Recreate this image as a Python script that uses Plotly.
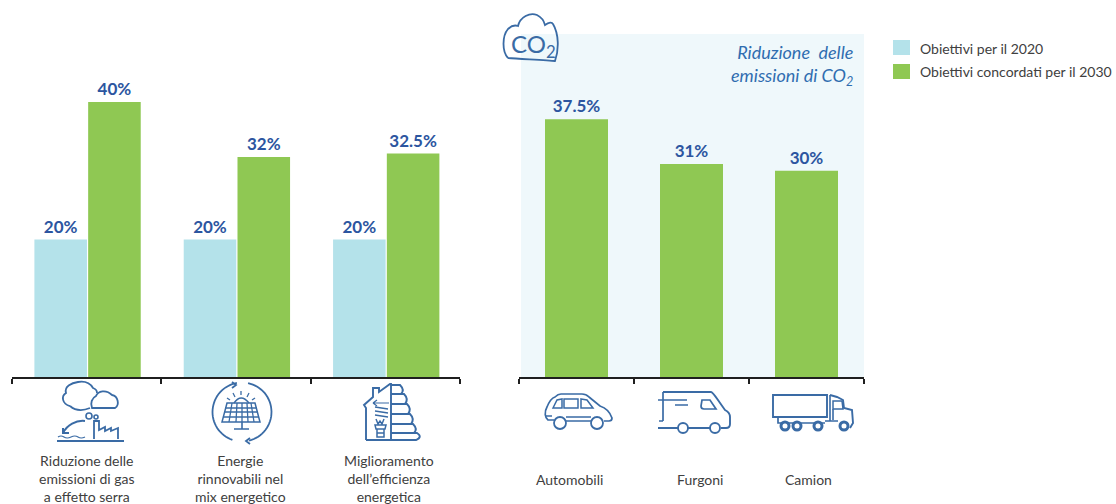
import math
import re
import plotly.graph_objects as go

W, H = 1116, 504

# ---- data ----
goal_categories = ["Riduzione delle<br>emissioni di gas<br>a effetto serra",
                   "Energie<br>rinnovabili nel<br>mix energetico",
                   "Miglioramento<br>dell’efficienza<br>energetica"]
goals_2020 = [20, 20, 20]
goals_2030 = [40, 32, 32.5]
vehicle_categories = ["Automobili", "Furgoni", "Camion"]
vehicles_2030 = [37.5, 31, 30]
series_names = ["Obiettivi per il 2020", "Obiettivi concordati per il 2030"]
label_2020 = ["20%", "20%", "20%"]
label_2030 = ["40%", "32%", "32.5%"]
label_vehicles = ["37.5%", "31%", "30%"]

# ---- style ----
FONT = "Lato"
BLUE_LIGHT = "#B4E2EA"
GREEN = "#8FC853"
PANEL = "#EFF8FB"
VALUE = "#2C55A0"
ICON = "#3A6BA5"
TEXT = "#404040"

PX_PER_UNIT = 6.875
BASE_Y = 377


def px(x):
    return x / W


def py(y):
    return 1 - y / H


def path(d):
    """Convert an SVG-like path given in page pixels into paper coordinates."""
    idx = [0]

    def rep(m):
        v = float(m.group(0))
        r = px(v) if idx[0] % 2 == 0 else py(v)
        idx[0] += 1
        return f"{r:.5f}"
    return re.sub(r"-?\d+\.?\d*", rep, d)


def arc(cx, cy, r, a0, a1, n=32):
    pts = []
    for i in range(n + 1):
        a = math.radians(a0 + (a1 - a0) * i / n)
        pts.append((cx + r * math.cos(a), cy - r * math.sin(a)))
    return "M " + " L ".join(f"{x:.1f} {y:.1f}" for x, y in pts)


shapes = []


def stroke(d, w=1.8, color=ICON):
    shapes.append(dict(type="path", path=path(d), xref="paper", yref="paper",
                       line=dict(color=color, width=w)))


def circle(cx, cy, r, w=1.8, color=ICON, fill="white"):
    shapes.append(dict(type="circle", xref="paper", yref="paper",
                       x0=px(cx - r), x1=px(cx + r), y0=py(cy + r), y1=py(cy - r),
                       line=dict(color=color, width=w), fillcolor=fill))


# panel behind the vehicle bars
shapes.append(dict(type="rect", xref="paper", yref="paper", layer="below",
                   x0=px(521), x1=px(864), y0=py(377), y1=py(34),
                   fillcolor=PANEL, line=dict(width=0)))

# legend swatches
for y0, c in ((40, BLUE_LIGHT), (64, GREEN)):
    shapes.append(dict(type="rect", xref="paper", yref="paper",
                       x0=px(893), x1=px(910), y0=py(y0 + 15), y1=py(y0),
                       fillcolor=c, line=dict(width=0)))

# CO2 cloud
stroke("M 508 58 C 502 52 502 36 508 29 C 511 26 515 25 518 26 C 520 17 530 12 537 15 "
       "C 541 17 544 21 545 25 C 549 22 552 22 553 24 C 559 34 559 50 555 61 "
       "C 548 60 520 59 508 58", 1.8)

# emissions icon
stroke("M 70 406 C 62 404 61 396 66 393 C 64 386 72 383 78 382 C 84 381 90 383 93 388 "
       "C 96 389 97 391 97 393")
stroke("M 70 406 Q 78 413 90 408")
stroke("M 92 408 C 90 403 92 398 96 396 C 98 391 106 389 112 395 C 118 396 120 405 115 408 Z")
circle(89, 416, 3, 1.6)
circle(96, 417, 2, 1.6)
stroke("M 85 421 C 76 420 67 425 63 433", 2)
stroke("M 63 428 L 63 433 L 69 433", 2)
stroke("M 94 439 L 94 421 L 99 421 L 99 430 L 105 427 L 105 431 L 111 428 L 111 431 L 118 428 L 118 439")
stroke("M 57 441 L 124 441", 2)
stroke("M 58 437 Q 61 435 64 437 Q 67 439 71 437 Q 75 435 78 437 Q 81 439 85 437", 1.2)

# renewable energy icon
stroke(arc(242, 412, 29.5, 100, 251))
stroke(arc(242, 412, 29.5, 78, -76))
stroke("M 232 382 L 236 385 L 232 388")
stroke("M 250 438 L 246 441 L 250 444")
stroke("M 227 403 L 255 403 L 260 422 L 222 422 Z", 1.5)
for xa, xb in ((232, 229), (237, 236), (242, 242), (247, 248), (251, 254)):
    stroke(f"M {xa} 403 L {xb} 422", 1.3)
for y, xa, xb in ((408, 225, 257), (412, 224, 258), (417, 223, 259)):
    stroke(f"M {xa} {y} L {xb} {y}", 1.3)
stroke("M 242 422 L 242 429 M 234 429 L 249 429", 1.6)
stroke("M 234 403 Q 241 393 249 403", 1.4)
for x0, y0, x1, y1 in ((241, 391, 241, 395), (233, 393, 235, 397), (249, 393, 247, 397),
                       (227, 398, 230, 400), (255, 398, 252, 400)):
    stroke(f"M {x0} {y0} L {x1} {y1}", 1.3)

# energy-efficiency icon
stroke("M 366 440 L 366 408 L 364 405 L 373 397 L 373 388 L 379 388 L 379 392 L 390 384 L 391 384 L 391 440", 1.9)
stroke("M 366 440 L 416 440 Q 423 437 417 433 L 391 433", 1.9)
stroke("M 391 385 L 400 385 Q 405 390 401 394 L 391 394 "
       "M 401 394 L 404 394 Q 409 399 405 404 L 391 404 "
       "M 405 404 L 407 404 Q 412 409 408 414 L 391 414 "
       "M 408 414 L 410 414 Q 415 419 411 424 L 391 424 "
       "M 411 424 L 413 424 Q 418 429 414 433", 1.9)
stroke("M 373 403 L 389 403 M 373 403 L 377 400 M 373 403 L 377 406", 1.2)
stroke("M 375 407 L 388 409 M 375 411 L 388 413 M 375 415 L 388 417", 1.3)
stroke("M 376 419 L 378 424 L 380 421 L 382 424 L 384 419 M 375 425 L 386 425 L 385 429 L 376 429 Z", 1.5)
stroke("M 377 429 L 377 437 L 384 437 L 384 429 M 377 433 L 384 433", 1.5)

# car icon
stroke("M 554 420 L 548 420 C 545 418 544 412 547 407 C 549 402 552 398 555 397 "
       "C 557 395 559 394 561 394 L 582 394 C 585 394 587 395 589 397 L 600 406 "
       "C 606 408 610 412 612 418 C 612 420 611 421 609 421 L 604 421", 1.7)
stroke("M 566 417 L 591 417 M 566 421 L 591 421 M 546 416 L 552 416", 1.4)
circle(560, 423, 6, 1.8)
circle(597, 423, 6, 1.8)
stroke("M 553 408 L 557 400 L 562 399 L 562 408 Z M 564 399 L 578 399 L 578 408 L 564 408 Z "
       "M 581 399 L 587 400 L 593 408 L 581 408 Z", 1.5)

# van icon
stroke("M 663 392 L 711 392 C 713 392 715 396 725 410 C 729 412 730 414 730 417 L 730 424 "
       "C 730 427 728 428 726 428 L 721 428", 1.9)
stroke("M 658 400 L 687 400 M 675 405 L 688 405 M 663 392 L 663 421 M 659 421 L 663 421", 1.7)
stroke("M 658 428 L 678 428 M 688 428 L 710 428", 1.9)
stroke("M 702 400 L 710 400 L 716 409 L 704 409 C 702 409 701 408 701 406 Z", 1.7)
circle(683, 428, 5, 1.9)
circle(715, 428, 5, 1.9)

# truck icon
stroke("M 773 395 L 827 395 L 827 417 L 773 417 Z", 1.9)
stroke("M 830 395 L 837 397 L 843 400 L 844 408 L 852 410 L 853 423 L 850 428", 1.9)
stroke("M 830 395 L 830 421 M 825 421 L 838 421 M 833 409 L 833 420", 1.6)
stroke("M 833 401 L 842 401 L 843 409 L 833 409 Z", 1.5)
stroke("M 778 417 L 778 423 L 825 423", 1.7)
for cx in (785, 797, 818, 844):
    circle(cx, 426, 4, 3)

fig = go.Figure()
W1 = 0.352
W2 = 63 / 115
fig.add_bar(x=goal_categories, y=goals_2020, name=series_names[0], marker_color=BLUE_LIGHT,
            width=W1, offset=-0.35, text=label_2020, textposition="outside",
            cliponaxis=False, xaxis="x", yaxis="y", showlegend=False)
fig.add_bar(x=goal_categories, y=goals_2030, name=series_names[1], marker_color=GREEN,
            width=W1, offset=0.01, text=label_2030, textposition="outside",
            cliponaxis=False, xaxis="x", yaxis="y", showlegend=False)
fig.add_bar(x=vehicle_categories, y=vehicles_2030, name=series_names[1], marker_color=GREEN,
            width=W2, offset=-W2 / 2, text=label_vehicles, textposition="outside",
            cliponaxis=False, xaxis="x2", yaxis="y2", showlegend=False)
fig.update_traces(textfont=dict(family=FONT, size=17, color=VALUE, weight="bold"),
                  marker_line_width=0)

axis_common = dict(type="category", showgrid=False, zeroline=False, showline=True,
                   linecolor="#1F1F1F", linewidth=1.5, ticks="outside", ticklen=5,
                   tickcolor="#1F1F1F", tickwidth=1.5, tickson="boundaries",
                   showticklabels=False)
ytop = BASE_Y / PX_PER_UNIT
y_dom = [1 - BASE_Y / H, 1]
fig.update_layout(
    width=W, height=H, autosize=False,
    margin=dict(l=0, r=0, t=0, b=0, pad=0),
    paper_bgcolor="white", plot_bgcolor="rgba(0,0,0,0)",
    showlegend=False,
    font=dict(family=FONT, color=TEXT),
    xaxis={**axis_common, "domain": [px(12), px(460)], "anchor": "y"},
    xaxis2={**axis_common, "domain": [px(519), px(864)], "anchor": "y2"},
    yaxis=dict(domain=y_dom, range=[0, ytop], visible=False),
    yaxis2=dict(domain=y_dom, range=[0, ytop], visible=False),
    shapes=shapes,
)

ann = []
for cat, dx in zip(goal_categories, (0, 4, 4)):
    ann.append(dict(x=cat, xref="x", y=py(450), yref="paper", text=cat, showarrow=False,
                    xanchor="center", yanchor="top", xshift=dx, align="center",
                    font=dict(family=FONT, size=14, color=TEXT)))
for cat, dx in zip(vehicle_categories, (-7, 8, 2)):
    ann.append(dict(x=cat, xref="x2", y=py(469), yref="paper", text=cat, showarrow=False,
                    xanchor="center", yanchor="top", xshift=dx,
                    font=dict(family=FONT, size=14, color=TEXT)))
for name, y in zip(series_names, (48, 72)):
    ann.append(dict(x=px(918), xref="paper", y=py(y), yref="paper", text=name, showarrow=False,
                    xanchor="left", yanchor="middle",
                    font=dict(family=FONT, size=14, color=TEXT)))
ann.append(dict(x=px(855), xref="paper", y=py(39), yref="paper", yanchor="top", xanchor="right",
                align="right", showarrow=False,
                text="<i>Riduzione  delle<br>emissioni di CO<sub>2</sub></i>",
                font=dict(family=FONT, size=18, color="#2F6DB0")))
ann.append(dict(x=px(533), xref="paper", y=py(45), yref="paper", xanchor="center", yanchor="middle",
                showarrow=False, text="CO<sub>2</sub>",
                font=dict(family=FONT, size=24, color=ICON)))
fig.update_layout(annotations=ann)

fig.write_html("out.html", config={"displayModeBar": False},
               post_script="document.body.style.margin='0';")
